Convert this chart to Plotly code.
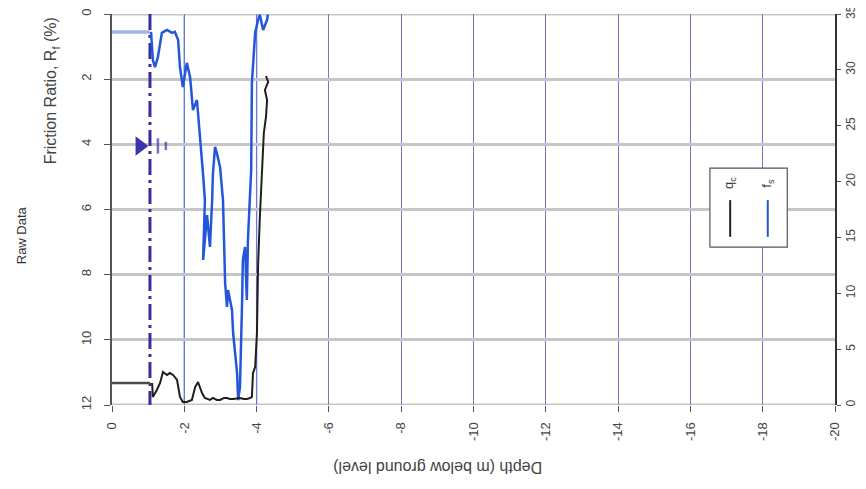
import plotly.graph_objects as go

# ---- data ----
predrill_depth = [0.0, -1.05]
predrill_rf = [0.55, 0.55]
predrill_qc = [1.97, 1.97]

rf_depth = [-1.08, -1.13, -1.19, -1.27, -1.38, -1.52, -1.66, -1.74, -1.83, -1.88, -1.96, -2.07,
            -2.16, -2.24, -2.35, -2.43, -2.49, -2.52, -2.57, -2.52, -2.63, -2.71, -2.77, -2.79,
            -2.85, -2.90, -2.99, -3.07, -3.13, -3.18, -3.21, -3.32, -3.35, -3.40, -3.46, -3.49,
            -3.54, -3.60, -3.62, -3.68, -3.73, -3.76, -3.82, -3.85, -3.87, -3.90, -3.96, -4.04,
            -4.09, -4.18, -4.29, -4.31]
rf_values = [0.55, 1.41, 1.63, 1.32, 0.58, 0.49, 0.58, 0.55, 0.80, 1.63, 2.24, 1.50,
             1.93, 2.95, 2.64, 3.65, 4.39, 4.94, 5.71, 7.55, 6.17, 7.15, 5.71, 4.94,
             4.08, 4.27, 4.70, 5.71, 8.26, 8.99, 8.47, 9.09, 9.79, 10.41, 11.02, 11.85,
             11.45, 8.78, 7.55, 7.15, 8.78, 6.94, 5.71, 4.79, 2.12, 1.63, 0.58, 0.18,
             0.02, 0.49, 0.18, 0.02]

qc_depth = [-1.11, -1.13, -1.24, -1.33, -1.41, -1.52, -1.60, -1.69, -1.80, -1.88, -1.96, -2.07,
            -2.21, -2.30, -2.38, -2.49, -2.57, -2.71, -2.79, -2.90, -2.99, -3.10, -3.18, -3.26,
            -3.35, -3.46, -3.54, -3.65, -3.73, -3.82, -3.87, -3.90, -3.96, -4.01, -4.04, -4.09,
            -4.15, -4.20, -4.26, -4.29, -4.23, -4.32, -4.26]
qc_values = [1.97, 0.72, 1.34, 1.97, 2.95, 2.69, 2.86, 2.69, 2.24, 0.72, 0.27, 0.27,
             0.45, 1.61, 2.06, 1.07, 0.63, 0.45, 0.63, 0.45, 0.45, 0.63, 0.63, 0.54,
             0.54, 0.63, 0.63, 0.54, 0.54, 0.63, 0.72, 2.86, 3.40, 6.45, 12.35, 16.83,
             21.31, 24.35, 25.78, 27.30, 28.20, 28.92, 29.45]

predrill_limit_depth = [-1.05, -1.05]
predrill_limit_rf = [0, 12]

water_table_depth = [-0.77]
water_table_rf = [4.05]
water_bar_depth = [-1.27, -1.49]
water_bar_rf = [4.05, 4.05]

depth_ticks = [0, -2, -4, -6, -8, -10, -12, -14, -16, -18, -20]
rf_ticks = [0, 2, 4, 6, 8, 10, 12]
qc_ticks = [0, 5, 10, 15, 20, 25, 30, 35]

FONT = "Liberation Sans, Arial, sans-serif"
fig = go.Figure()

fig.add_trace(go.Scatter(x=predrill_limit_depth, y=predrill_limit_rf, mode="lines",
                         line=dict(color="#3a2c9e", width=3, dash="16px,5px,3px,5px"),
                         showlegend=False, hoverinfo="skip"))
fig.add_trace(go.Scatter(x=predrill_depth, y=predrill_rf, mode="lines",
                         line=dict(color="#9db7e6", width=3.5), showlegend=False))
fig.add_trace(go.Scatter(x=predrill_depth, y=predrill_qc, mode="lines", yaxis="y2",
                         line=dict(color="#4a4a4a", width=2.5), showlegend=False))
fig.add_trace(go.Scatter(x=rf_depth, y=rf_values, mode="lines", name="fs",
                         line=dict(color="#2457d8", width=2.5), showlegend=False))
fig.add_trace(go.Scatter(x=qc_depth, y=qc_values, mode="lines", name="qc", yaxis="y2",
                         line=dict(color="#1e1e1e", width=2), showlegend=False))
fig.add_trace(go.Scatter(x=water_table_depth, y=water_table_rf, mode="markers",
                         marker=dict(symbol="triangle-right", size=17, color="#3b35a8"),
                         showlegend=False))
fig.add_trace(go.Scatter(x=water_bar_depth, y=water_bar_rf, mode="markers",
                         marker=dict(symbol="line-ns", size=[11, 6],
                                     line=dict(color="#3b35a8", width=2.5)),
                         showlegend=False))

# brighter blue gridlines at -2 and -4
for d in [-2, -4]:
    fig.add_shape(type="line", x0=d, x1=d, y0=0, y1=1, xref="x", yref="paper",
                  line=dict(color="#3f6fe0", width=1.3), layer="below")
# thick grey gridlines on top and bottom edges
for yv in [0, 12]:
    fig.add_shape(type="line", x0=0, x1=1, y0=yv, y1=yv, xref="paper", yref="y",
                  line=dict(color="#c6c6c6", width=3), layer="below")

# legend box (rotated style)
fig.add_shape(type="rect", xref="paper", yref="paper", x0=0.827, x1=0.934, y0=0.404, y1=0.606,
              fillcolor="white", line=dict(color="#555", width=1.2))
fig.add_shape(type="line", xref="paper", yref="paper", x0=0.855, x1=0.855, y0=0.430, y1=0.524,
              line=dict(color="#222", width=2))
fig.add_shape(type="line", xref="paper", yref="paper", x0=0.907, x1=0.907, y0=0.430, y1=0.524,
              line=dict(color="#2457d8", width=2))
for xp, txt in [(0.855, "q<sub>c</sub>"), (0.907, "f<sub>s</sub>")]:
    fig.add_annotation(xref="paper", yref="paper", x=xp, y=0.568, text=txt,
                       xanchor="center", yanchor="middle", showarrow=False, textangle=-90,
                       font=dict(family=FONT, size=13, color="#333"))

# titles
fig.add_annotation(xref="paper", yref="paper", x=-0.124, y=0.435, text="Raw Data",
                   xanchor="center", yanchor="middle",
                   showarrow=False, textangle=-90, font=dict(family=FONT, size=13, color="#333"))
fig.add_annotation(xref="paper", yref="paper", x=-0.084, y=0.803,
                   text="Friction Ratio, R<sub>f</sub> (%)", xanchor="center", yanchor="middle",
                   showarrow=False, textangle=-90, font=dict(family=FONT, size=16, color="#444"))
fig.add_annotation(xref="paper", yref="paper", x=0.451, y=-0.158,
                   text="Depth (m below ground level)", xanchor="center", yanchor="middle",
                   showarrow=False, textangle=180, font=dict(family=FONT, size=16, color="#444"))

# page body adds an 8px offset, so the figure is sized to fit the window without scrolling
fig.update_layout(
    width=858, height=468,
    margin=dict(l=104, r=31, t=6, b=71, autoexpand=False),
    paper_bgcolor="white", plot_bgcolor="white",
    font=dict(family=FONT, size=13, color="#444"),
    xaxis=dict(range=[0, -20], tickvals=depth_ticks, ticktext=[str(v) for v in depth_ticks],
               tickangle=-90, showgrid=True, gridcolor="#7474cc", gridwidth=1,
               zeroline=False, ticks="outside", ticklen=6, tickcolor="#555",
               ticklabelstandoff=5, showline=False, automargin=False),
    yaxis=dict(range=[12, 0], tickvals=rf_ticks, tickangle=-90, showgrid=True,
               gridcolor="#c6c6c6", gridwidth=3, zeroline=False, ticks="outside",
               ticklen=6, tickcolor="#555", ticklabelstandoff=8, showline=True,
               linecolor="#555", linewidth=1.5, mirror=False, automargin=False),
    yaxis2=dict(range=[0, 35], tickvals=qc_ticks, tickangle=-90, overlaying="y", side="right",
                showgrid=False, zeroline=False, ticks="outside", ticklen=4, tickcolor="#555",
                ticklabelstandoff=0, ticklabeloverflow="allow",
                tickfont=dict(family=FONT, size=12, color="#444"),
                showline=True, linecolor="#333", linewidth=1.5, automargin=False),
)

fig.write_html("out.html")
